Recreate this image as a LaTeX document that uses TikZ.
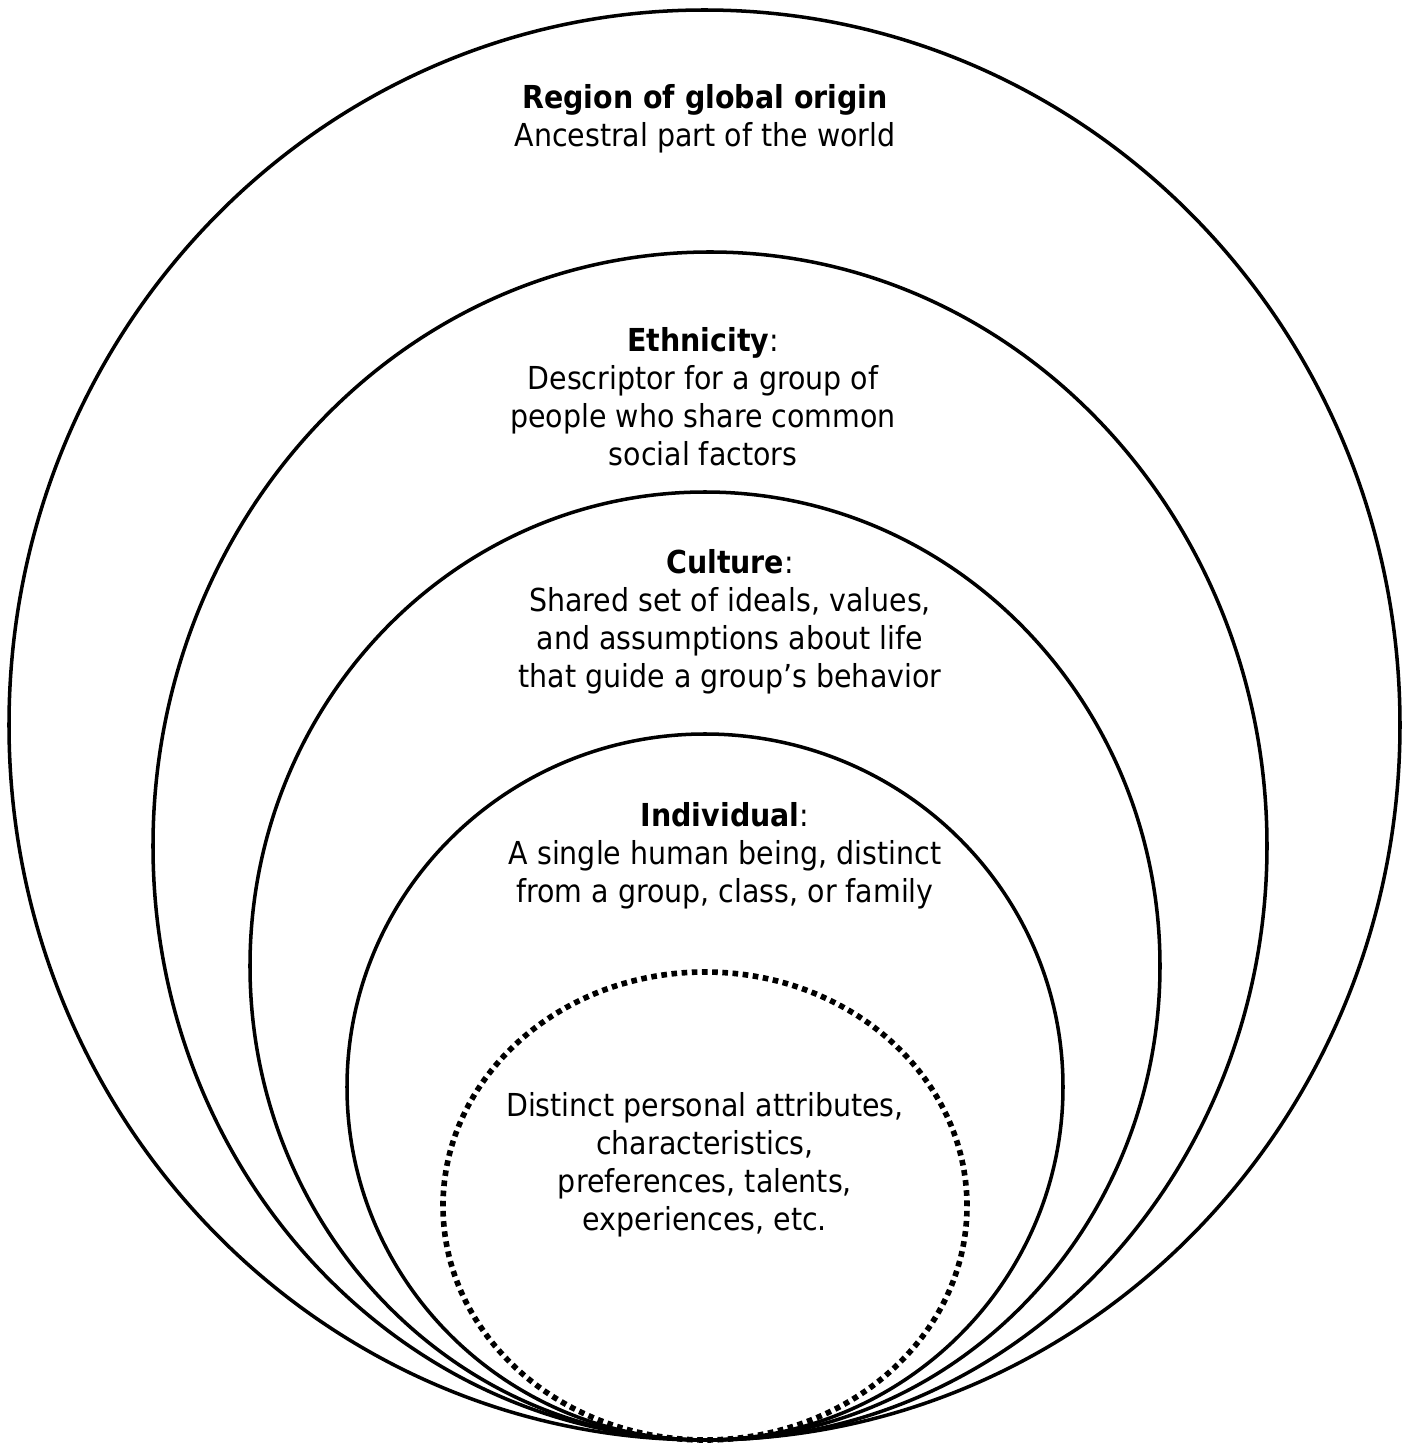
\documentclass[tikz,border=0pt]{standalone}
\usepackage{fontspec}
\setmainfont{DejaVu Sans}[FakeStretch=0.9]
\usepackage{tikz}
\begin{document}
\begin{tikzpicture}
\tikzstyle{every node}+=[inner sep=0pt,align=center,font=\fontsize{9}{10.8}\selectfont]
\useasboundingbox (0,0) rectangle (14.06,14.45);
\draw [black,line width=1pt] (7.045,7.20) ellipse (6.955 and 7.15);
\draw [black,line width=1pt] (7.10,5.99) ellipse (5.57 and 5.94);
\draw [black,line width=1pt] (7.05,4.79) ellipse (4.55 and 4.74);
\draw [black,line width=1pt] (7.05,3.58) ellipse (3.58 and 3.53);
\draw [black,line width=1.6pt,dash pattern=on 1.6pt off 1.3pt] (7.05,2.39) ellipse (2.62 and 2.34);
\draw (7.05,13.265) node (region) {\textbf{Region of global origin}\\Ancestral part of the world};
\draw (7.03,10.485) node (ethnicity) {\textbf{Ethnicity}:\\Descriptor for a group of\\people who share common\\social factors};
\draw (7.30,8.235) node (culture) {\textbf{Culture}:\\Shared set of ideals, values,\\and assumptions about life\\that guide a group’s behavior};
\draw (7.25,5.89) node (individual) {\textbf{Individual}:\\A single human being, distinct\\from a group, class, or family};
\draw (7.05,2.80) node (attributes) {Distinct personal attributes,\\characteristics,\\preferences, talents,\\experiences, etc.};
\end{tikzpicture}
\end{document}
